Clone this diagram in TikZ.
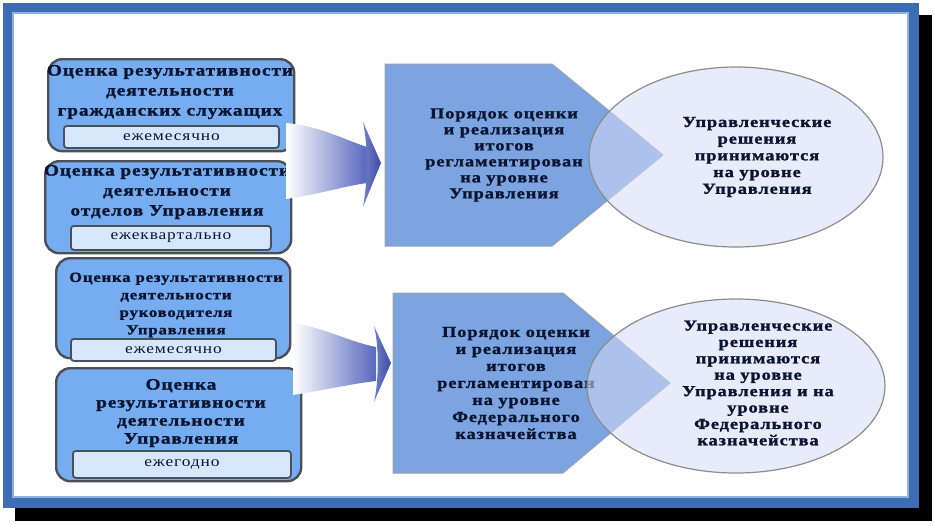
\documentclass[tikz,border=0pt]{standalone}
\usepackage{fontspec}
\setmainfont{Liberation Serif}
\newfontfamily\wideA[FakeStretch=1.2,LetterSpace=6]{Liberation Serif}
\newfontfamily\wideB[FakeStretch=1.2,LetterSpace=6,FakeBold=1.4]{Liberation Serif}
\usetikzlibrary{shapes.geometric}
\definecolor{frameblue}{HTML}{3C6CB4}
\definecolor{framelight}{HTML}{8FB2E2}
\definecolor{boxblue}{HTML}{76ADF0}
\definecolor{boxline}{HTML}{4A4F58}
\definecolor{labelfill}{HTML}{D6E7FB}
\definecolor{pentblue}{HTML}{7BA4E0}
\definecolor{pentline}{HTML}{9AA2AC}
\definecolor{ellfill}{HTML}{D5DCF6}
\definecolor{ellline}{HTML}{8C8C8C}
\definecolor{arrowblue}{HTML}{5868BE}
\definecolor{headdark}{HTML}{3E4CA4}
\definecolor{txt}{HTML}{0B1430}
\begin{document}
\begin{tikzpicture}[x=1pt,y=-1pt,
  outerbox/.style={draw=boxline, line width=2.4pt, fill=boxblue, rounded corners=14pt, anchor=north west, inner sep=0pt},
  labelbox/.style={draw=boxline, line width=1.8pt, fill=labelfill, rounded corners=3pt, anchor=north west, inner sep=0pt},
  lefttxt/.style={text=txt, align=center, inner sep=0pt, font=\wideB\bfseries\fontsize{16}{20}\selectfont},
  labeltxt/.style={text=txt, inner sep=0pt, font=\wideA\fontsize{14.5}{16}\selectfont},
  pent/.style={draw=pentline, line width=1pt, fill=pentblue},
  ell/.style={ellipse, draw=ellline, line width=1.2pt, fill=ellfill, fill opacity=0.55, inner sep=0pt},
  midtxt/.style={text=txt, align=center, inner sep=0pt, font=\wideB\bfseries\fontsize{15.3}{16}\selectfont},
]
\useasboundingbox (0,0) rectangle (934,525);
\fill[white] (0,0) rectangle (934,525);
% frame
\fill[black] (15,15) rectangle (932,521);
\fill[frameblue] (3,3) rectangle (919,508);
\fill[white] (13,13) rectangle (908,497);
\draw[framelight, line width=1.5pt] (13,13) rectangle (908,497);

% left boxes
\node[outerbox, minimum width=246pt, minimum height=92pt] (b1) at (47,58) {};
\node[labelbox, minimum width=215pt, minimum height=22pt] (l1) at (63,125) {};
\node[lefttxt] (t1) at (170,92) {Оценка результативности\\деятельности\\гражданских служащих};
\node[labeltxt] (lt1) at (l1.center) {ежемесячно};

\node[outerbox, minimum width=246pt, minimum height=92pt] (b2) at (44,160) {};
\node[labelbox, minimum width=200pt, minimum height=24pt] (l2) at (70,225) {};
\node[lefttxt] (t2) at (167,192) {Оценка результативности\\деятельности\\отделов Управления};
\node[labeltxt] (lt2) at (l2.center) {ежеквартально};

\node[outerbox, minimum width=234pt, minimum height=100pt] (b3) at (55,257) {};
\node[lefttxt, font=\wideB\bfseries\fontsize{13.9}{17.5}\selectfont] (t3) at (176,305) {Оценка результативности\\деятельности\\руководителя\\Управления};
\node[labelbox, minimum width=205pt, minimum height=22pt] (l3) at (70,338) {};
\node[labeltxt] (lt3) at (l3.center) {ежемесячно};

\node[outerbox, minimum width=245pt, minimum height=113pt] (b4) at (55,367) {};
\node[labelbox, minimum width=218pt, minimum height=27pt] (l4) at (72,450) {};
\node[lefttxt, font=\wideB\bfseries\fontsize{16}{18}\selectfont] (t4) at (181,413) {Оценка\\результативности\\деятельности\\Управления};
\node[labeltxt] (lt4) at (l4.center) {ежегодно};

% arrows
\coordinate (a1a) at (286,123);
\coordinate (a1b) at (367,147);
\coordinate (a1c) at (367,183);
\coordinate (a1d) at (286,199);
\coordinate (h1a) at (363,122);
\coordinate (h1t) at (381,163);
\coordinate (h1b) at (363,207);
\shade[left color=white, right color=arrowblue] (a1a) .. controls (320,126) and (345,140) .. (a1b) -- (a1c) .. controls (345,186) and (320,194) .. (a1d) -- cycle;
\shade[left color=arrowblue!85, right color=headdark] (h1a) -- (h1t) -- (h1b) .. controls (368,180) and (368,146) .. (h1a) -- cycle;

\coordinate (a2a) at (293,323);
\coordinate (a2b) at (376,347);
\coordinate (a2c) at (376,381);
\coordinate (a2d) at (293,395);
\coordinate (h2a) at (374,326);
\coordinate (h2t) at (391,363);
\coordinate (h2b) at (374,402);
\shade[left color=white, right color=arrowblue] (a2a) .. controls (325,328) and (350,342) .. (a2b) -- (a2c) .. controls (350,384) and (325,390) .. (a2d) -- cycle;
\shade[left color=arrowblue!85, right color=headdark] (h2a) -- (h2t) -- (h2b) .. controls (379,380) and (379,346) .. (h2a) -- cycle;

% pentagons
\draw[pent] (385,64) -- (552,64) -- (663,155) -- (552,246) -- (385,246) -- cycle;
\node[midtxt] (p1) at (504,155) {Порядок оценки\\и реализация\\итогов\\регламентирован\\на уровне\\Управления};
\draw[pent] (393,293) -- (563,293) -- (670,383) -- (563,473) -- (393,473) -- cycle;
\node[midtxt, font=\wideB\bfseries\fontsize{15.3}{17}\selectfont] (p2) at (516,383) {Порядок оценки\\и реализация\\итогов\\регламентирован\\на уровне\\Федерального\\казначейства};

% ellipses
\node[ell, minimum width=294pt, minimum height=180pt] (e1) at (736,157) {};
\node[midtxt, font=\wideB\bfseries\fontsize{15.3}{16.7}\selectfont] (et1) at (757,157) {Управленческие\\решения\\принимаются\\на уровне\\Управления};
\node[ell, minimum width=298pt, minimum height=174pt] (e2) at (736,386) {};
\node[midtxt, font=\wideB\bfseries\fontsize{15.3}{16.4}\selectfont] (et2) at (758,383) {Управленческие\\решения\\принимаются\\на уровне\\Управления и на\\уровне\\Федерального\\казначейства};
\end{tikzpicture}
\end{document}
